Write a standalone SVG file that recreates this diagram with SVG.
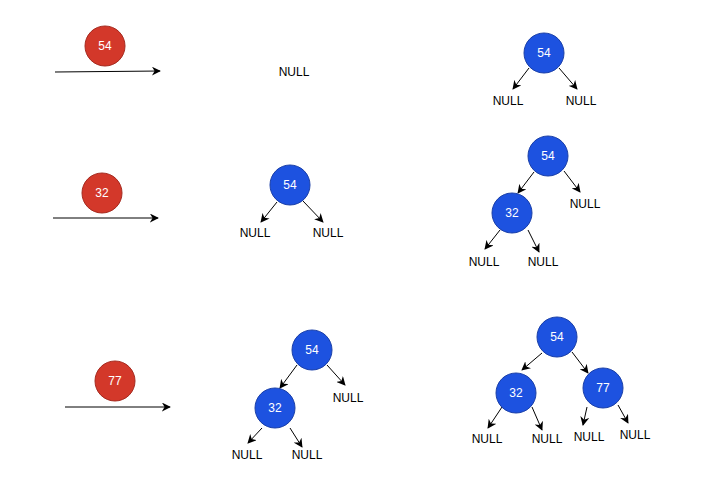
<svg xmlns="http://www.w3.org/2000/svg" width="720" height="499" viewBox="0 0 720 499">
<defs>
<marker id="ah" viewBox="0 0 10 10" refX="9" refY="5" markerWidth="9" markerHeight="9" markerUnits="userSpaceOnUse" orient="auto">
<path d="M0,0 L10,5 L0,10 L3,5 Z" fill="#000"/>
</marker>
<style>
.b{fill:#1d52e0;stroke:#1a3fa8;stroke-width:1}
.r{fill:#d3382a;stroke:#a52a1f;stroke-width:1}
.v{font-family:"Liberation Sans",Arial,sans-serif;font-size:12px;fill:#fff;text-anchor:middle;dominant-baseline:central}
.n{font-family:"Liberation Sans",Arial,sans-serif;font-size:12px;fill:#000;text-anchor:middle;dominant-baseline:central}
.e{stroke:#000;stroke-width:1;fill:none;marker-end:url(#ah)}
</style>
</defs>
<rect width="720" height="499" fill="#fff"/>
<g id="connectors">
<line class="e" x1="55" y1="72" x2="160" y2="71"/>
<line class="e" x1="53" y1="218" x2="158" y2="218"/>
<line class="e" x1="65" y1="407" x2="170" y2="407"/>
<line class="e" x1="529" y1="68" x2="513" y2="89"/>
<line class="e" x1="559" y1="68" x2="577" y2="89"/>
<line class="e" x1="277" y1="202" x2="261" y2="222"/>
<line class="e" x1="303" y1="201" x2="323" y2="222"/>
<line class="e" x1="534" y1="172" x2="518" y2="193"/>
<line class="e" x1="564" y1="171" x2="580" y2="192"/>
<line class="e" x1="500" y1="230" x2="485" y2="249"/>
<line class="e" x1="528" y1="230" x2="539" y2="252"/>
<line class="e" x1="297" y1="365" x2="280" y2="388"/>
<line class="e" x1="327" y1="365" x2="345" y2="385"/>
<line class="e" x1="262" y1="428" x2="248" y2="443"/>
<line class="e" x1="290" y1="428" x2="302" y2="447"/>
<line class="e" x1="542" y1="353" x2="522" y2="370"/>
<line class="e" x1="572" y1="352" x2="588" y2="373"/>
<line class="e" x1="502" y1="407" x2="488" y2="428"/>
<line class="e" x1="532" y1="407" x2="542" y2="430"/>
<line class="e" x1="587" y1="407" x2="583" y2="425"/>
<line class="e" x1="618" y1="405" x2="628" y2="423"/>
</g>
<g id="in54"><circle class="r" cx="105" cy="46" r="20"/><text class="v" x="105" y="46">54</text></g>
<g id="in32"><circle class="r" cx="102" cy="193" r="20"/><text class="v" x="102" y="193">32</text></g>
<g id="in77"><circle class="r" cx="115" cy="381" r="20"/><text class="v" x="115" y="381">77</text></g>
<g id="null0"><text class="n" x="294" y="72">NULL</text></g>
<g id="t1"><circle class="b" cx="544" cy="53" r="20"/><text class="v" x="544" y="53">54</text>
<text class="n" x="508" y="101">NULL</text><text class="n" x="581" y="101">NULL</text></g>
<g id="t2a"><circle class="b" cx="290" cy="185" r="20"/><text class="v" x="290" y="185">54</text>
<text class="n" x="255" y="233">NULL</text><text class="n" x="328" y="233">NULL</text></g>
<g id="t2b54"><circle class="b" cx="548" cy="156" r="20"/><text class="v" x="548" y="156">54</text>
<text class="n" x="585" y="204">NULL</text></g>
<g id="t2b32"><circle class="b" cx="512" cy="213" r="20"/><text class="v" x="512" y="213">32</text>
<text class="n" x="484" y="262">NULL</text><text class="n" x="543" y="262">NULL</text></g>
<g id="t3a54"><circle class="b" cx="312" cy="350" r="20"/><text class="v" x="312" y="350">54</text>
<text class="n" x="348" y="398">NULL</text></g>
<g id="t3a32"><circle class="b" cx="275" cy="408" r="20"/><text class="v" x="275" y="408">32</text>
<text class="n" x="247" y="455">NULL</text><text class="n" x="307" y="455">NULL</text></g>
<g id="t3b54"><circle class="b" cx="557" cy="337" r="20"/><text class="v" x="557" y="337">54</text></g>
<g id="t3b32"><circle class="b" cx="516" cy="393" r="20"/><text class="v" x="516" y="393">32</text>
<text class="n" x="487" y="439">NULL</text><text class="n" x="547" y="439">NULL</text></g>
<g id="t3b77"><circle class="b" cx="603" cy="388" r="20"/><text class="v" x="603" y="388">77</text>
<text class="n" x="589" y="437">NULL</text><text class="n" x="635" y="435">NULL</text></g>
</svg>
